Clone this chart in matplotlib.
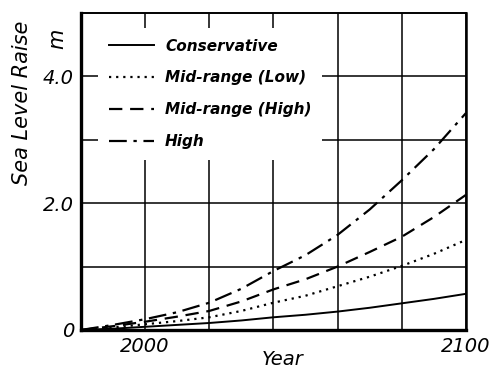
import matplotlib
matplotlib.use("Agg")
import matplotlib.pyplot as plt

# projected sea level rise (m) by scenario
years = [1980, 1990, 2000, 2010, 2020, 2030, 2040, 2050, 2060, 2070, 2080, 2090, 2100]
conservative = [0, 0.02, 0.05, 0.08, 0.11, 0.15, 0.20, 0.24, 0.29, 0.35, 0.42, 0.49, 0.57]
mid_low = [0, 0.04, 0.09, 0.14, 0.20, 0.30, 0.43, 0.54, 0.69, 0.84, 1.01, 1.20, 1.42]
mid_high = [0, 0.06, 0.13, 0.21, 0.30, 0.45, 0.64, 0.80, 1.00, 1.23, 1.47, 1.78, 2.13]
high = [0, 0.08, 0.17, 0.28, 0.43, 0.65, 0.93, 1.18, 1.50, 1.90, 2.36, 2.85, 3.42]

scenario_labels = ['Conservative', 'Mid-range (Low)', 'Mid-range (High)', 'High']
x_ticks = [1980, 2000, 2020, 2040, 2060, 2080, 2100]
x_tick_labels = ['', '2000', '', '', '', '', '2100']
y_ticks = [0, 1, 2, 3, 4]
y_tick_labels = ['0', '', '2.0', '', '4.0']

plt.rcParams['font.family'] = 'DejaVu Sans'

fig = plt.figure(figsize=(4.94, 3.72), dpi=100)
ax = fig.add_axes([0.164, 0.113, 0.779, 0.852])

lw = 1.6
ax.plot(years, conservative, color='black', lw=1.4, linestyle='-', label=scenario_labels[0])
ax.plot(years, mid_low, color='black', lw=lw, linestyle=(0, (1, 2.2)), label=scenario_labels[1])
ax.plot(years, mid_high, color='black', lw=lw, linestyle=(0, (6, 3.5)), label=scenario_labels[2])
ax.plot(years, high, color='black', lw=lw, linestyle=(0, (8, 3, 1.5, 3)), label=scenario_labels[3])

ax.set_xlim(1980, 2100)
ax.set_ylim(0, 5)
ax.set_xticks(x_ticks)
ax.set_xticklabels(x_tick_labels, fontstyle='italic', fontsize=14)
ax.set_yticks(y_ticks)
ax.set_yticklabels(y_tick_labels, fontstyle='italic', fontsize=14)
ax.tick_params(length=0, pad=5)
ax.grid(True, color='black', lw=1.1)
ax.set_axisbelow(True)

for side, w in [('left', 2.4), ('bottom', 2.4), ('top', 1.4), ('right', 1.8)]:
    ax.spines[side].set_linewidth(w)

leg = ax.legend(loc='upper left', bbox_to_anchor=(0.044, 0.953), frameon=True,
                fancybox=False, framealpha=1, edgecolor='none', facecolor='white',
                prop={'style': 'italic', 'weight': 'bold', 'size': 11},
                handlelength=3.0, handletextpad=0.7, labelspacing=1.1,
                borderpad=0.7, borderaxespad=0)
leg.set_zorder(5)

fig.text(0.045, 0.723, 'Sea Level Raise', rotation=90, fontsize=15, fontstyle='italic',
         ha='center', va='center')
fig.text(0.115, 0.895, 'm', rotation=90, fontsize=15, fontstyle='italic',
         ha='center', va='center')
ax.text(2043, -0.47, 'Year', fontsize=14, fontstyle='italic', ha='center', va='center')

fig.savefig('out.png', dpi=100)
